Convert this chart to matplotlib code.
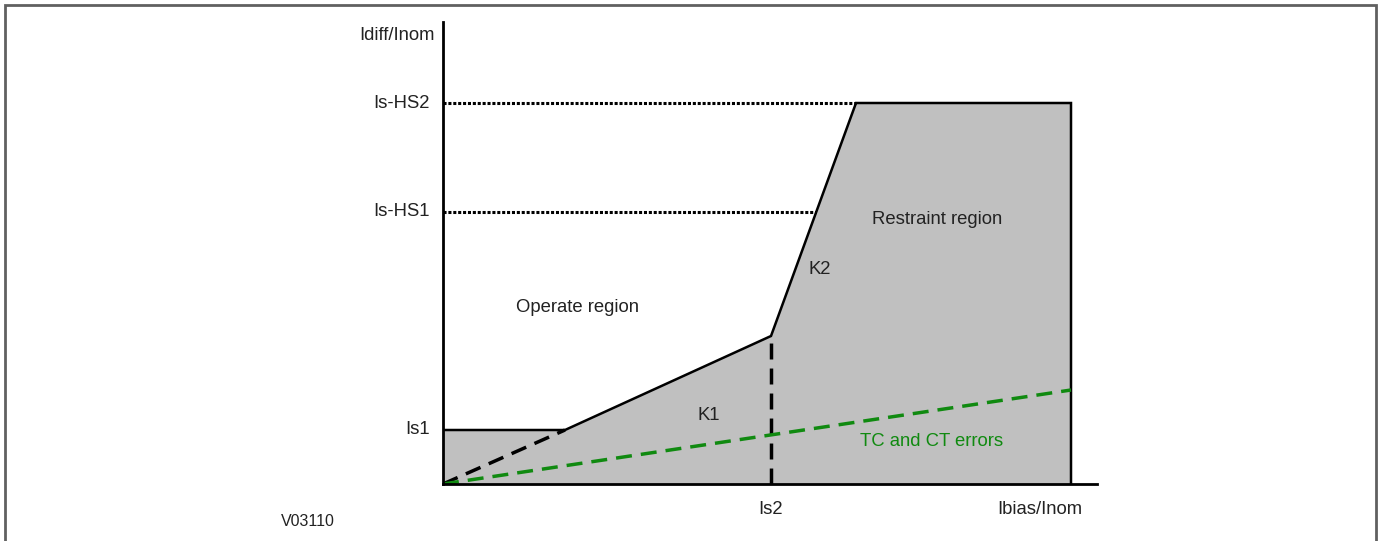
import matplotlib.pyplot as plt
from matplotlib.patches import Rectangle

plt.rcParams['font.family'] = ['Liberation Sans', 'DejaVu Sans']

# Characteristic break points (arbitrary units, Ibias/Inom vs Idiff/Inom)
is1 = 0.54
k1_start = 1.22
is2 = 3.28
k1_end = 1.48
is_hs1 = 2.72
is_hs2 = 3.81
hs2_x = 4.13
x_end = 6.28
x_axis_max = 6.54
y_axis_max = 4.62
ct_err_end = 0.94

curve_x = [0, 0, k1_start, is2, hs2_x, x_end, x_end]
curve_y = [0, is1, is1, k1_end, is_hs2, is_hs2, 0]
hs1_x = is2 + (is_hs1 - k1_end) / (is_hs2 - k1_end) * (hs2_x - is2)

fig = plt.figure(figsize=(13.8, 5.41), dpi=100)
ax = fig.add_axes([443 / 1380, 57 / 541, 654 / 1380, 462 / 541])
ax.set_xlim(0, x_axis_max)
ax.set_ylim(0, y_axis_max)

# Restraint area
ax.fill(curve_x, curve_y, color='#c0c0c0', lw=0)
ax.plot(curve_x[1:], curve_y[1:], color='black', lw=1.8, solid_joinstyle='miter')

# Dashed helpers
dash = (0, (4.6, 2.6))
ax.plot([0, k1_start], [0, is1], color='black', lw=2.5, ls=dash)
ax.plot([is2, is2], [0, k1_end], color='black', lw=2.5, ls=dash)
ax.plot([0, x_end], [0, ct_err_end], color='#108a10', lw=2.5, ls=dash)

# Dotted setting levels
ax.plot([0, hs2_x], [is_hs2, is_hs2], color='black', lw=2.2, ls=(0, (1, 0.6)))
ax.plot([0, hs1_x], [is_hs1, is_hs1], color='black', lw=2.2, ls=(0, (1, 0.6)))

for s in ['top', 'right']:
    ax.spines[s].set_visible(False)
ax.spines['left'].set_linewidth(2)
ax.spines['bottom'].set_linewidth(2)
ax.set_xticks([])
ax.set_yticks([])

fs = 13.3
tc = '#222222'
ax.text(-0.13, is_hs2, 'Is-HS2', ha='right', va='center', fontsize=fs, color=tc)
ax.text(-0.13, is_hs1, 'Is-HS1', ha='right', va='center', fontsize=fs, color=tc)
ax.text(-0.13, is1, 'Is1', ha='right', va='center', fontsize=fs, color=tc)
ax.text(-0.08, 4.49, 'Idiff/Inom', ha='right', va='center', fontsize=fs, color=tc)
ax.text(is2, -0.25, 'Is2', ha='center', va='center', fontsize=fs, color=tc)
ax.text(5.97, -0.25, 'Ibias/Inom', ha='center', va='center', fontsize=fs, color=tc)
ax.text(-1.35, -0.37, 'V03110', ha='center', va='center', fontsize=11.5, color=tc)

ax.text(1.34, 1.76, 'Operate region', ha='center', va='center', fontsize=fs, color=tc)
ax.text(4.94, 2.65, 'Restraint region', ha='center', va='center', fontsize=fs, color=tc)
ax.text(3.77, 2.14, 'K2', ha='center', va='center', fontsize=fs, color=tc)
ax.text(2.66, 0.68, 'K1', ha='center', va='center', fontsize=fs, color=tc)
ax.text(4.89, 0.42, 'TC and CT errors', ha='center', va='center', fontsize=fs, color='#108a10')

# Outer frame
fig.patches.append(Rectangle((5 / 1380, -0.05), 1371 / 1380, 1.05 - 5 / 541,
                             transform=fig.transFigure, fill=False,
                             edgecolor='#606060', lw=2))

fig.savefig('out.png', dpi=100)
